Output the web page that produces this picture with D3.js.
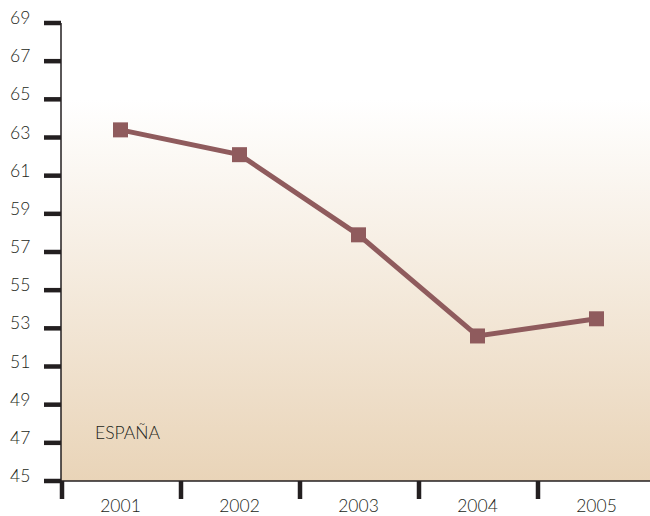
<!DOCTYPE html>
<html>
<head>
<meta charset="utf-8">
<script src="https://cdn.jsdelivr.net/npm/d3@7"></script>
<style>
  body { margin: 0; background: #fff; }
  text { font-family: "Lato", "DejaVu Sans", sans-serif; font-weight: 300; fill: #231f20; }
</style>
</head>
<body>
<div id="chart"></div>
<script>
// data
var years = ["2001", "2002", "2003", "2004", "2005"];
var values = [63.4, 62.1, 57.9, 52.6, 53.5];
var yTicks = [45, 47, 49, 51, 53, 55, 57, 59, 61, 63, 65, 67, 69];
var label = "ESPAÑA";

var W = 650, H = 516;
var plotLeft = 61, plotTop = 23, plotBottom = 481, plotRight = 656;

var svg = d3.select("#chart").append("svg")
    .attr("width", W)
    .attr("height", H);

// scales
var x = d3.scaleBand().domain(years).range([plotLeft, plotRight]);
var y = d3.scaleLinear().domain([45, 69]).range([plotBottom, plotTop]);

// background gradient (45 to 65)
var defs = svg.append("defs");
var grad = defs.append("linearGradient")
    .attr("id", "bg")
    .attr("x1", 0).attr("y1", 0).attr("x2", 0).attr("y2", 1);
grad.append("stop").attr("offset", "0%").attr("stop-color", "#ffffff");
grad.append("stop").attr("offset", "100%").attr("stop-color", "#e9d4b8");

svg.append("rect")
    .attr("x", plotLeft)
    .attr("y", y(65))
    .attr("width", plotRight - plotLeft)
    .attr("height", y(45) - y(65))
    .attr("fill", "url(#bg)");

// y axis line
svg.append("line")
    .attr("x1", plotLeft).attr("x2", plotLeft)
    .attr("y1", y(69)).attr("y2", y(45))
    .attr("stroke", "#231f20").attr("stroke-width", 1.5);

// x axis line
svg.append("line")
    .attr("x1", plotLeft).attr("x2", W)
    .attr("y1", y(45)).attr("y2", y(45))
    .attr("stroke", "#231f20").attr("stroke-width", 1.5);

// y ticks
svg.selectAll(".ytick").data(yTicks).enter().append("line")
    .attr("x1", 44).attr("x2", plotLeft)
    .attr("y1", function(d) { return y(d); })
    .attr("y2", function(d) { return y(d); })
    .attr("stroke", "#231f20").attr("stroke-width", 4.5);

svg.selectAll(".ylab").data(yTicks).enter().append("text")
    .attr("x", 10)
    .attr("y", function(d) { return y(d) + 1; })
    .attr("font-size", 17.5)
    .text(function(d) { return d; });

// x ticks at band boundaries
var bounds = years.map(function(d) { return x(d); }).concat([plotRight]);
svg.selectAll(".xtick").data(bounds).enter().append("line")
    .attr("x1", function(d) { return d + 1; })
    .attr("x2", function(d) { return d + 1; })
    .attr("y1", y(45)).attr("y2", 499)
    .attr("stroke", "#231f20").attr("stroke-width", 4.5);

svg.selectAll(".xlab").data(years).enter().append("text")
    .attr("x", function(d) { return x(d) + x.bandwidth() / 2; })
    .attr("y", 512)
    .attr("text-anchor", "middle")
    .attr("font-size", 17.5)
    .text(function(d) { return d; });

// line
var line = d3.line()
    .x(function(d, i) { return x(years[i]) + x.bandwidth() / 2; })
    .y(function(d) { return y(d); });

svg.append("path")
    .datum(values)
    .attr("d", line)
    .attr("fill", "none")
    .attr("stroke", "#8f5b5d")
    .attr("stroke-width", 5);

svg.selectAll(".pt").data(values).enter().append("rect")
    .attr("x", function(d, i) { return x(years[i]) + x.bandwidth() / 2 - 7.5; })
    .attr("y", function(d) { return y(d) - 7.5; })
    .attr("width", 15).attr("height", 15)
    .attr("fill", "#8f5b5d");

svg.append("text")
    .attr("x", 95)
    .attr("y", 439)
    .attr("font-size", 17.5)
    .text(label);
</script>
</body>
</html>
